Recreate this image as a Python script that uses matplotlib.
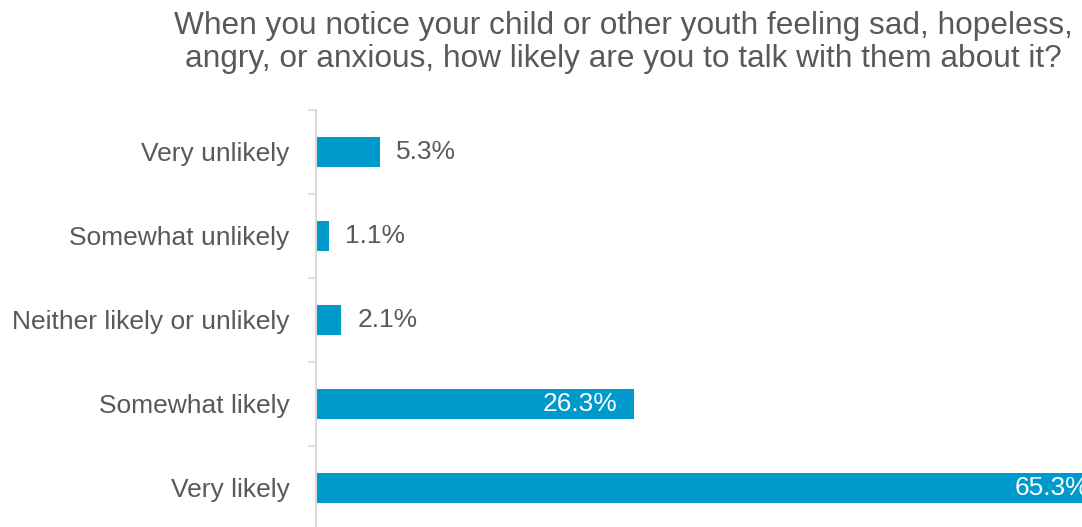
import matplotlib.pyplot as plt
import numpy as np

# survey responses
categories = ['Very unlikely', 'Somewhat unlikely', 'Neither likely or unlikely',
              'Somewhat likely', 'Very likely']
percent = [5.3, 1.1, 2.1, 26.3, 65.3]

title_lines = ['When you notice your child or other youth feeling sad, hopeless,',
               'angry, or anxious, how likely are you to talk with them about it?']

bar_color = '#0099cc'
text_color = '#595959'
axis_color = '#d9d9d9'

plt.rcParams['font.family'] = ['Liberation Sans', 'DejaVu Sans']

W, H = 1082, 527
fig = plt.figure(figsize=(W / 100, H / 100), dpi=100)
# axes run past the right/bottom edge so the long bar gets cut off
ax = fig.add_axes([316 / W, -3 / H, 847 / W, 420 / H])

y = np.arange(len(categories))
ax.barh(y, percent, height=0.36, color=bar_color)

ax.set_xlim(0, 70)
ax.set_ylim(len(categories) - 0.5, -0.5)

# labels: inside the bar (white) when the bar is long, otherwise to the right
for yi, v in zip(y, percent):
    label = f'{v:.1f}%'
    if v > 10:
        ax.annotate(label, (v, yi), xytext=(-12, 0), textcoords='offset points',
                    ha='right', va='center', fontsize=19, color='white',
                    annotation_clip=False)
    else:
        ax.annotate(label, (v, yi), xytext=(11.5, 0), textcoords='offset points',
                    ha='left', va='center', fontsize=19, color=text_color)

ax.set_yticks(y)
ax.set_yticklabels(categories, fontsize=19, color=text_color)
ax.tick_params(axis='y', which='major', length=0, pad=19)
ax.set_yticks(np.arange(len(categories) + 1) - 0.5, minor=True)
ax.tick_params(axis='y', which='minor', length=6, width=1.2, color=axis_color)
ax.set_xticks([])

for side in ['top', 'right', 'bottom']:
    ax.spines[side].set_visible(False)
ax.spines['left'].set_color(axis_color)
ax.spines['left'].set_linewidth(1.5)

# two-line title, each line placed on its own baseline
for line, base in zip(title_lines, [34, 67]):
    fig.text(623 / W, 1 - base / H, line, ha='center', va='baseline',
             fontsize=22.8, color=text_color)

fig.savefig('out.png', dpi=100)
